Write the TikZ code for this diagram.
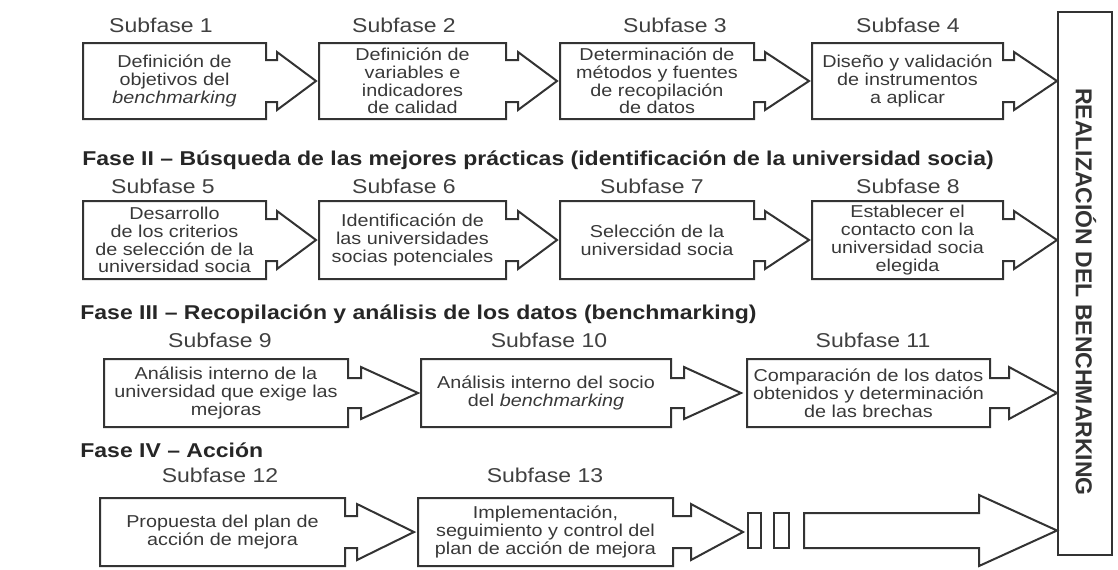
\documentclass[tikz,border=0pt]{standalone}
\usepackage{fontspec}
\setmainfont[FakeStretch=1.15]{Liberation Sans}
\newfontfamily\sidefont{Liberation Sans}

% one subphase: body with notched arrow on its right side
% #1 name, #2 left, #3 body right, #4 shaft end, #5 tip, #6 centre y, #7 text
\newcommand{\subfase}[7]{%
  \draw[outline] (#2,#6-\boxh) -- (#3,#6-\boxh) -- (#3,#6-\shafth) -- (#4,#6-\shafth)
    -- (#4,#6-\headh) -- (#5,#6) -- (#4,#6+\headh) -- (#4,#6+\shafth)
    -- (#3,#6+\shafth) -- (#3,#6+\boxh) -- (#2,#6+\boxh) -- cycle;
  \node[boxtext] (#1) at ({(#2+#3)/2},#6) {#7};}

\begin{document}
\begin{tikzpicture}[
  x=0.5pt, y=-0.5pt,
  outline/.style={draw=black!80, line width=1pt, line join=miter},
  boxtext/.style={align=center, text=black!78, inner sep=0pt,
                  font=\fontsize{8.6}{8.9}\selectfont},
  sublabel/.style={text=black!75, inner sep=0pt, font=\fontsize{10}{12}\selectfont},
  phase/.style={anchor=base west, text=black!85, inner sep=0pt,
                font=\bfseries\fontsize{10}{12}\selectfont}
]
\path[use as bounding box] (0,0) rectangle (1118,569);

% Fase I
\def\boxh{38}\def\headh{29}\def\shafth{21}
\node[sublabel] (s1) at (161,25) {Subfase 1};
\node[sublabel] (s2) at (404,25) {Subfase 2};
\node[sublabel] (s3) at (675,25) {Subfase 3};
\node[sublabel] (s4) at (908,25) {Subfase 4};
\subfase{b1}{83}{266}{277}{316}{81}{Definición de\\objetivos del\\\textit{benchmarking}}
\subfase{b2}{319}{506}{518}{557}{81}{Definición de\\variables e\\indicadores\\de calidad}
\subfase{b3}{560}{754}{765}{809}{81}{Determinación de\\métodos y fuentes\\de recopilación\\de datos}
\subfase{b4}{812}{1003}{1014}{1057}{81}{Diseño y validación\\de instrumentos\\a aplicar}

% Fase II
\node[phase] (f2) at (82,165) {Fase II -- Búsqueda de las mejores prácticas (identificación de la universidad socia)};
\def\boxh{39}\def\headh{29}\def\shafth{21}
\node[sublabel] (s5) at (163,186) {Subfase 5};
\node[sublabel] (s6) at (404,186) {Subfase 6};
\node[sublabel] (s7) at (652,186) {Subfase 7};
\node[sublabel] (s8) at (908,186) {Subfase 8};
\subfase{b5}{83}{266}{277}{316}{240}{Desarrollo\\de los criterios\\de selección de la\\universidad socia}
\subfase{b6}{319}{506}{518}{557}{240}{Identificación de\\las universidades\\socias potenciales}
\subfase{b7}{560}{754}{765}{809}{240}{Selección de la\\universidad socia}
\subfase{b8}{812}{1003}{1014}{1057}{240}{Establecer el\\contacto con la\\universidad socia\\elegida}

% Fase III
\node[phase] (f3) at (80,319) {Fase III -- Recopilación y análisis de los datos (benchmarking)};
\def\boxh{34}\def\headh{26}\def\shafth{15}
\node[sublabel] (s9) at (220,340) {Subfase 9};
\node[sublabel] (s10) at (549,340) {Subfase 10};
\node[sublabel] (s11) at (873,340) {Subfase 11};
\subfase{b9}{104}{348}{361}{418}{393}{Análisis interno de la\\universidad que exige las\\mejoras}
\subfase{b10}{421}{671}{684}{741}{393}{Análisis interno del socio\\del \textit{benchmarking}}
\subfase{b11}{747}{990}{1009}{1057}{393}{Comparación de los datos\\obtenidos y determinación\\de las brechas}

% Fase IV
\node[phase] (f4) at (80,457) {Fase IV -- Acción};
\def\boxh{34}\def\headh{28}\def\shafth{16}
\node[sublabel] (s12) at (220,475) {Subfase 12};
\node[sublabel] (s13) at (545,475) {Subfase 13};
\subfase{b12}{100}{345}{357}{414}{532}{Propuesta del plan de\\acción de mejora}
\subfase{b13}{418}{673}{691}{743}{532}{Implementación,\\seguimiento y control del\\plan de acción de mejora}

% gap blocks and the long arrow
\draw[outline] (748,513) rectangle (761,548);
\draw[outline] (774,513) rectangle (789,548);
\draw[outline] (804,513) -- (979,513) -- (979,495) -- (1057,530.5)
  -- (979,566) -- (979,548) -- (804,548) -- cycle;

% final column
\draw[outline] (1058,12) rectangle (1112,555);
\node[rotate=-90, text=black!80, inner sep=0pt, font=\sidefont\bfseries\fontsize{11.5}{13}\selectfont]
  (real) at (1086,292) {REALIZACIÓN DEL BENCHMARKING};

\end{tikzpicture}
\end{document}
